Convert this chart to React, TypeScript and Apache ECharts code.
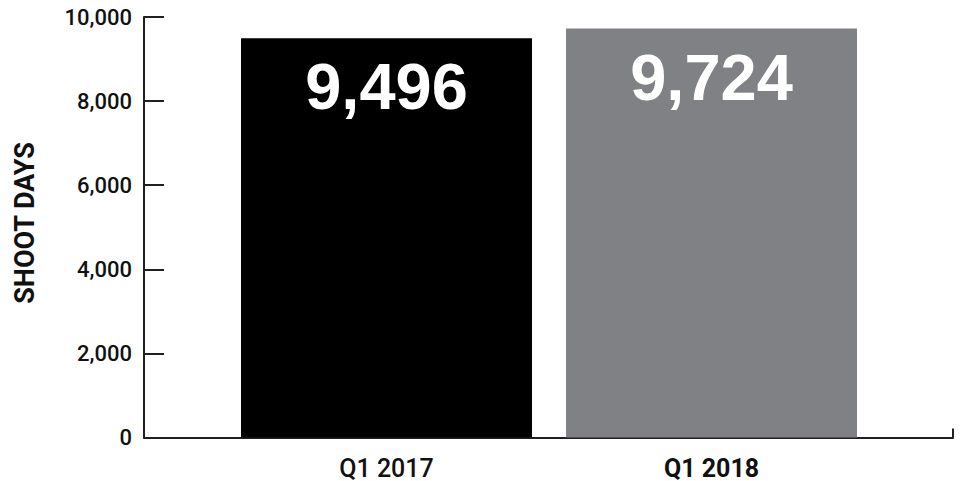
import React, { useEffect, useRef } from "react";
import * as echarts from "echarts";

const categories = ["Q1 2017", "Q1 2018"];
const shootDays = [9496, 9724];
const barColors = ["#000000", "#808184"];
const yTicks = { min: 0, max: 10000, interval: 2000 };
const yAxisTitle = "SHOOT DAYS";

const fmt = (v: number) => v.toLocaleString("en-US");

export default function App() {
  const ref = useRef<HTMLDivElement>(null);
  useEffect(() => {
    if (!ref.current) return;
    const chart = echarts.init(ref.current, undefined, { renderer: "svg" });
    const axisColor = "#231f20";
    chart.setOption({
      animation: false,
      backgroundColor: "#ffffff",
      grid: [
        { left: 144, right: 13, top: 17, bottom: 43.5 },
        { left: 224, width: 650, top: 17, bottom: 43.5 },
      ],
      xAxis: [
        {
          gridIndex: 0,
          type: "value",
          min: 0,
          max: 1,
          interval: 1,
          axisLine: { show: true, lineStyle: { color: axisColor, width: 2 } },
          axisTick: { show: true, inside: true, length: 9, lineStyle: { color: axisColor, width: 2 } },
          axisLabel: { show: false },
          splitLine: { show: false },
        },
        {
          gridIndex: 1,
          type: "category",
          data: categories.map((c, i) => ({
            value: c,
            textStyle: { fontWeight: i === 1 ? "bold" : 500 },
          })),
          axisLine: { show: false },
          axisTick: { show: false },
          axisLabel: {
            color: "#111",
            fontSize: 25,
            fontFamily: "Roboto, 'Liberation Sans', Arial, sans-serif",
            margin: 18,
          },
        },
      ],
      yAxis: [
        {
          gridIndex: 0,
          type: "value",
          min: yTicks.min,
          max: yTicks.max,
          interval: yTicks.interval,
          axisLine: { show: true, lineStyle: { color: axisColor, width: 2 } },
          axisTick: { show: true, inside: true, length: 20, lineStyle: { color: axisColor, width: 2 } },
          axisLabel: {
            color: "#111",
            fontSize: 22,
            fontWeight: 500,
            fontFamily: "Roboto, 'Liberation Sans', Arial, sans-serif",
            margin: 12,
            formatter: (v: number) => fmt(v),
          },
          splitLine: { show: false },
        },
        {
          gridIndex: 1,
          type: "value",
          min: yTicks.min,
          max: yTicks.max,
          show: false,
          splitLine: { show: false },
        },
      ],
      graphic: [
        {
          type: "text",
          x: 25,
          y: 223,
          rotation: Math.PI / 2,
          style: {
            text: yAxisTitle,
            fill: "#111",
            font: "bold 27px 'Liberation Sans Narrow', 'Roboto', sans-serif",
            align: "center",
            verticalAlign: "middle",
          },
        },
      ],
      series: [
        {
          type: "bar",
          xAxisIndex: 1,
          yAxisIndex: 1,
          barWidth: 291,
          data: shootDays.map((v, i) => ({ value: v, itemStyle: { color: barColors[i] } })),
          label: {
            show: true,
            position: "insideTop",
            distance: 16,
            color: "#ffffff",
            fontSize: 65,
            fontWeight: "bold",
            fontFamily: "Liberation Sans, Arial, sans-serif",
            formatter: (p: any) => fmt(p.value),
          },
        },
      ],
    });
    return () => chart.dispose();
  }, []);
  return (
    <div
      ref={ref}
      style={{ position: "fixed", left: 0, top: 0, width: 966, height: 481 }}
    />
  );
}
